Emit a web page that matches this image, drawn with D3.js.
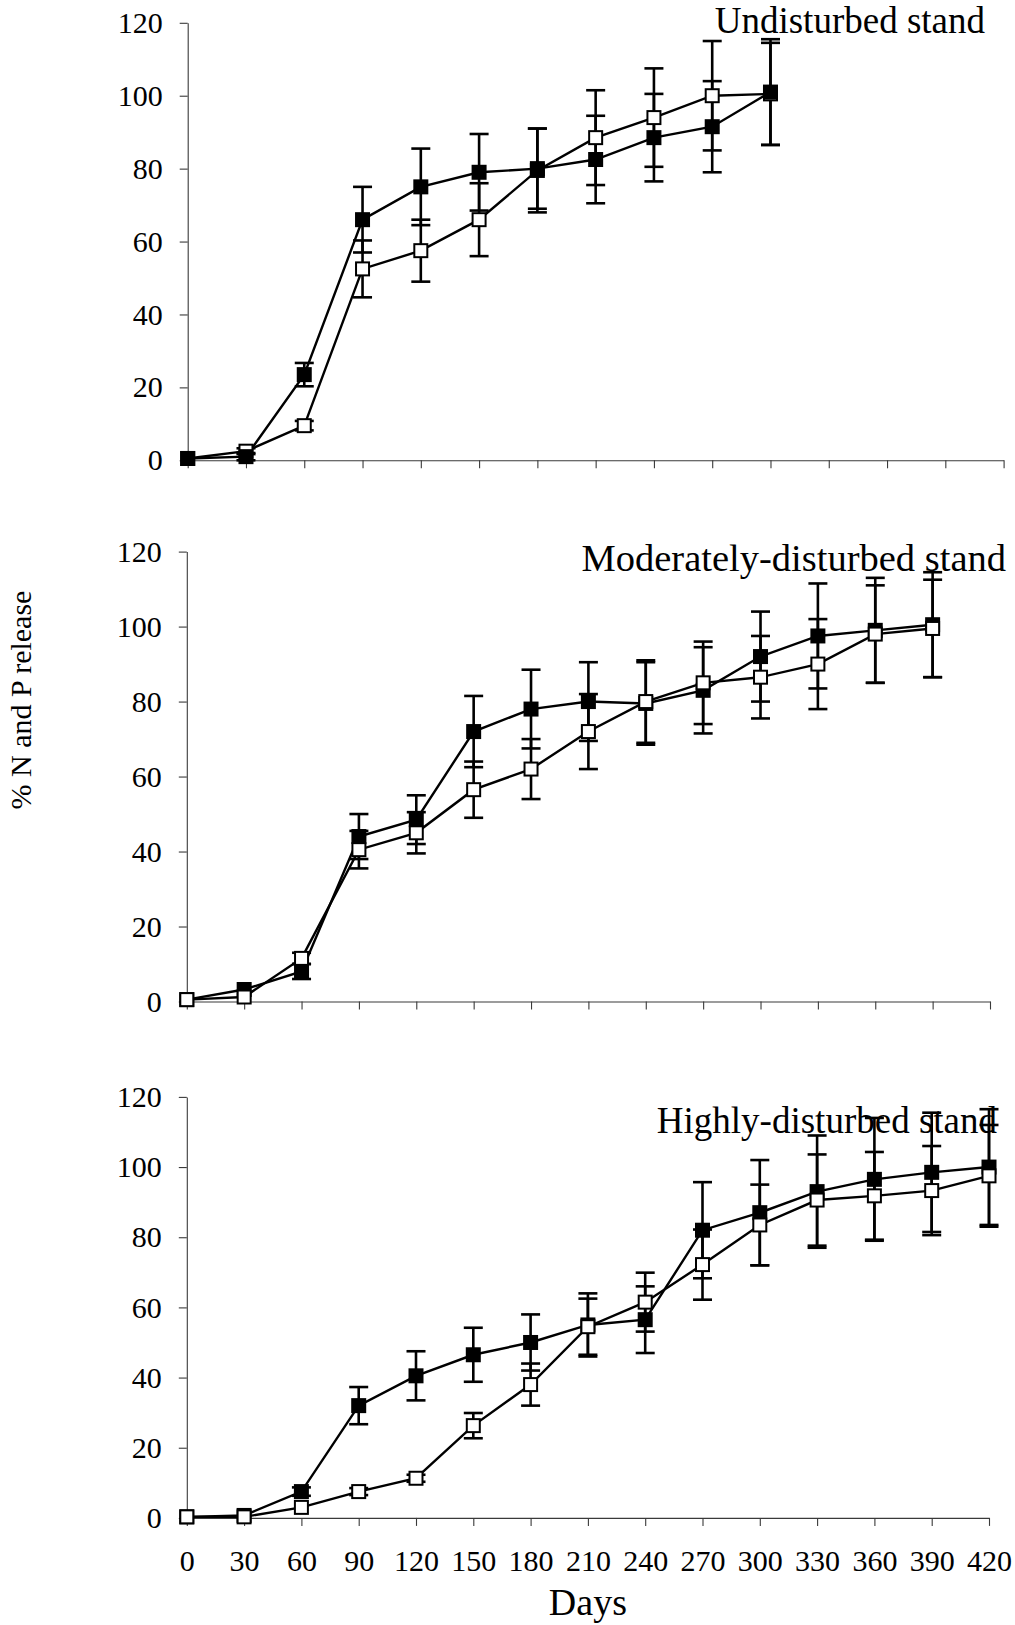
<!DOCTYPE html>
<html><head><meta charset="utf-8">
<script src="https://cdn.jsdelivr.net/npm/d3@7"></script>
<style>
body{margin:0;background:#fff}
svg{display:block;background:#fff}
text{font-family:"Liberation Serif","Times New Roman",serif;fill:#000}
</style>
</head><body>
<svg id="c" width="1015" height="1625"></svg>
<script>
// ---- data ----
const days = [0,30,60,90,120,150,180,210,240,270,300,330,360,390,420];
const yTicks = [0,20,40,60,80,100,120];
const panelTitles = ["Undisturbed stand","Moderately-disturbed stand","Highly-disturbed stand"];
const xTitle = "Days";
const yTitle = "% N and P release";

// Undisturbed stand (0-300 days)
const undistFilled    = [0.5, 1, 23.5, 66, 75, 79, 80, 82.5, 88.5, 91.5, 101];
const undistFilledErr = [0, 1, 3.2, 9, 10.5, 10.5, 11, 12, 12, 12.5, 14.5];
const undistOpen      = [0.5, 2.5, 9.5, 52.5, 57.5, 66, 79.5, 88.5, 94, 100, 100.5];
const undistOpenErr   = [0, 0.8, 1.3, 7.8, 8.5, 10, 11.5, 13, 13.5, 15, 14];

// Moderately-disturbed stand (0-390 days)
const modFilled    = [0.5, 3.2, 8, 44, 48.5, 72, 78, 80, 79.5, 83, 92, 97.5, 99, 100.5];
const modFilledErr = [0, 0, 2, 6, 6.5, 9.5, 10.5, 10.5, 11, 11.5, 12, 14, 14, 14];
const modOpen      = [0.5, 1.2, 11.5, 40.5, 45, 56.5, 62, 72, 80, 85, 86.5, 90, 98, 99.5];
const modOpenErr   = [0, 0, 1.5, 5, 5.5, 7.5, 8, 10, 11, 11, 11, 12, 13, 13];

// Highly-disturbed stand (0-420 days)
const highFilled    = [0.3, 0.7, 7.5, 32, 40.5, 46.5, 50, 55, 56.5, 82, 87, 93, 96.5, 98.5, 100];
const highFilledErr = [0, 0, 1.2, 5.3, 7, 7.7, 8, 9, 9.5, 13.7, 15, 16, 17.5, 17, 16.5];
const highOpen      = [0.3, 0.3, 3, 7.5, 11.3, 26.3, 38, 54.5, 61.5, 72.2, 83.5, 90.6, 91.8, 93.3, 97.5];
const highOpenErr   = [0, 0, 0, 1, 1, 3.6, 6, 8, 8.4, 10, 11.5, 13, 12.5, 12.7, 14.5];

// ---- layout ----
const svg = d3.select("#c");
const panels = [
  {title: panelTitles[0], filled: undistFilled, fErr: undistFilledErr, open: undistOpen, oErr: undistOpenErr,
   x0: 187.7, x1: 1003.6, y0: 460.3, y1: 22.8, tx: 985, ty: 33, fs: 37, openFirst: true, labels: false},
  {title: panelTitles[1], filled: modFilled, fErr: modFilledErr, open: modOpen, oErr: modOpenErr,
   x0: 186.8, x1: 990, y0: 1001.5, y1: 551.6, tx: 1006, ty: 571, fs: 38.5, openFirst: false, labels: false},
  {title: panelTitles[2], filled: highFilled, fErr: highFilledErr, open: highOpen, oErr: highOpenErr,
   x0: 186.8, x1: 989, y0: 1517.9, y1: 1096.9, tx: 997, ty: 1133, fs: 37, openFirst: false, labels: true}
];

const AX = "#3a3a3a";
const MS = 15, CAP = 19;

panels.forEach(p => {
  const x = d3.scaleLinear().domain([0, 420]).range([p.x0, p.x1]);
  const y = d3.scaleLinear().domain([0, 120]).range([p.y0, p.y1]);
  const g = svg.append("g");

  const xa = g.append("g").attr("transform", `translate(0,${p.y0})`)
    .call(d3.axisBottom(x).tickValues(days).tickSize(8).tickSizeOuter(0).tickPadding(24)
      .tickFormat(p.labels ? d3.format("d") : () => ""));
  const ya = g.append("g").attr("transform", `translate(${p.x0},0)`)
    .call(d3.axisLeft(y).tickValues(yTicks).tickSize(8).tickSizeOuter(0).tickPadding(17));
  [xa, ya].forEach(a => {
    a.selectAll("path,line").attr("stroke", AX).attr("stroke-width", 1.1);
    a.selectAll("text").attr("font-size", 30).attr("fill", "#000")
      .attr("font-family", '"Liberation Serif","Times New Roman",serif');
  });

  const series = [
    {vals: p.filled, err: p.fErr, fill: "#000"},
    {vals: p.open, err: p.oErr, fill: "#fff"}
  ];
  const order = p.openFirst ? [series[1], series[0]] : [series[0], series[1]];
  const pts = s => s.vals.map((v, i) => ({d: days[i], v, e: s.err[i]}));

  // error bars
  order.forEach(s => {
    const eb = g.append("g").attr("stroke", "#000").attr("stroke-width", 2.6).attr("fill", "none");
    pts(s).filter(o => o.e > 0).forEach(o => {
      const cx = x(o.d), yt = y(o.v + o.e), yb = y(o.v - o.e);
      eb.append("line").attr("x1", cx).attr("x2", cx).attr("y1", yt).attr("y2", yb);
      eb.append("line").attr("x1", cx - CAP/2).attr("x2", cx + CAP/2).attr("y1", yt).attr("y2", yt);
      eb.append("line").attr("x1", cx - CAP/2).attr("x2", cx + CAP/2).attr("y1", yb).attr("y2", yb);
    });
  });

  // lines
  const line = d3.line().x(o => x(o.d)).y(o => y(o.v));
  order.forEach(s => {
    g.append("path").datum(pts(s)).attr("d", line)
      .attr("fill", "none").attr("stroke", "#000").attr("stroke-width", 2.4);
  });

  // markers
  order.forEach(s => {
    g.append("g").selectAll("rect").data(pts(s)).join("rect")
      .attr("x", o => x(o.d) - (MS - 2)/2).attr("y", o => y(o.v) - (MS - 2)/2)
      .attr("width", MS - 2).attr("height", MS - 2)
      .attr("fill", s.fill).attr("stroke", "#000").attr("stroke-width", 2);
  });

  // panel title
  g.append("text").attr("x", p.tx).attr("y", p.ty).attr("text-anchor", "end")
    .attr("font-size", p.fs).text(p.title);

  if (p.labels) {
    g.append("text").attr("x", (p.x0 + p.x1) / 2).attr("y", 1615)
      .attr("text-anchor", "middle").attr("font-size", 38).text(xTitle);
  }
});

svg.append("text").attr("transform", "translate(31,700) rotate(-90)")
  .attr("text-anchor", "middle").attr("font-size", 30).text(yTitle);
</script>
</body></html>
